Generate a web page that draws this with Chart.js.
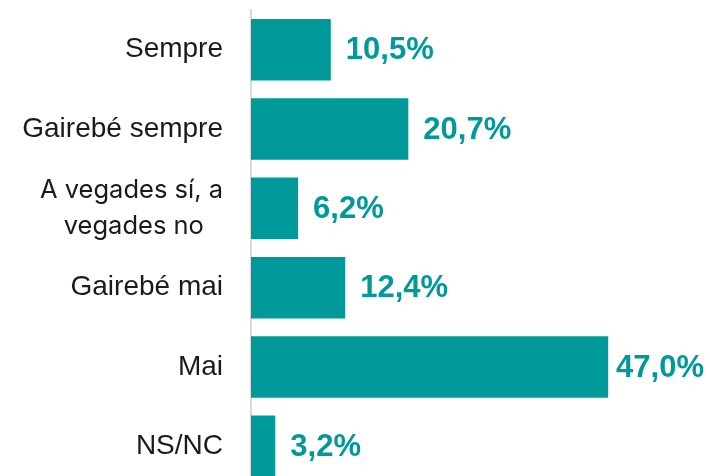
<!DOCTYPE html>
<html>
<head>
<meta charset="utf-8">
<script src="https://cdn.jsdelivr.net/npm/chart.js@4"></script>
<style>
  html, body { margin: 0; padding: 0; background: #fff; overflow: hidden; }
  #wrap { position: relative; width: 710px; height: 488px; }
</style>
</head>
<body>
<div id="wrap"><canvas id="chart"></canvas></div>
<script>
// Data
const categories = ['Sempre', 'Gairebé sempre', ['A vegades sí, a', 'vegades no\u2002\u2005'], 'Gairebé mai', 'Mai', 'NS/NC'];
const values = [10.5, 20.7, 6.2, 12.4, 47.0, 3.2];

const teal = '#009999';

// Value labels at bar ends
const valueLabels = {
    id: 'valueLabels',
    afterDatasetsDraw(chart) {
        const ctx = chart.ctx;
        const meta = chart.getDatasetMeta(0);
        ctx.save();
        ctx.font = 'bold 31px "Liberation Sans", Arial, sans-serif';
        ctx.fillStyle = teal;
        ctx.textBaseline = 'middle';
        meta.data.forEach((bar, i) => {
            const text = values[i].toFixed(1).replace('.', ',') + '%';
            const w = ctx.measureText(text).width;
            const x = Math.min(bar.x + 15, chart.width - w - 6);
            ctx.fillText(text, x, bar.y + 1);
        });
        ctx.restore();
    }
};

function createChart() {
    const ctx = document.getElementById('chart').getContext('2d');
    new Chart(ctx, {
        type: 'bar',
        data: {
            labels: categories,
            datasets: [{
                data: values,
                backgroundColor: teal,
                categoryPercentage: 1,
                barPercentage: 0.776
            }]
        },
        options: {
            indexAxis: 'y',
            responsive: true,
            maintainAspectRatio: false,
            animation: false,
            layout: { padding: { top: 10, bottom: 2, right: 3, left: 0 } },
            plugins: {
                legend: { display: false },
                tooltip: { enabled: false }
            },
            scales: {
                x: {
                    display: false,
                    min: 0,
                    max: 60
                },
                y: {
                    afterFit(scale) {
                        scale.width = 251;
                        scale.paddingTop = 0;
                        scale.paddingBottom = 0;
                    },
                    grid: {
                        display: true,
                        drawOnChartArea: false,
                        drawTicks: true,
                        tickLength: 28,
                        color: 'rgba(0,0,0,0)'
                    },
                    border: { display: true, color: '#d9d9d9', width: 2 },
                    ticks: {
                        padding: 0,
                        color: '#1a1a1a',
                        font: (c) => c.index === 2
                            ? { family: 'Inter, "Noto Sans", sans-serif', size: 25.5, lineHeight: 1.38 }
                            : { family: '"Liberation Sans", Arial, sans-serif', size: 28 }
                    }
                }
            }
        },
        plugins: [valueLabels]
    });
}

document.addEventListener('DOMContentLoaded', createChart);
</script>
</body>
</html>
